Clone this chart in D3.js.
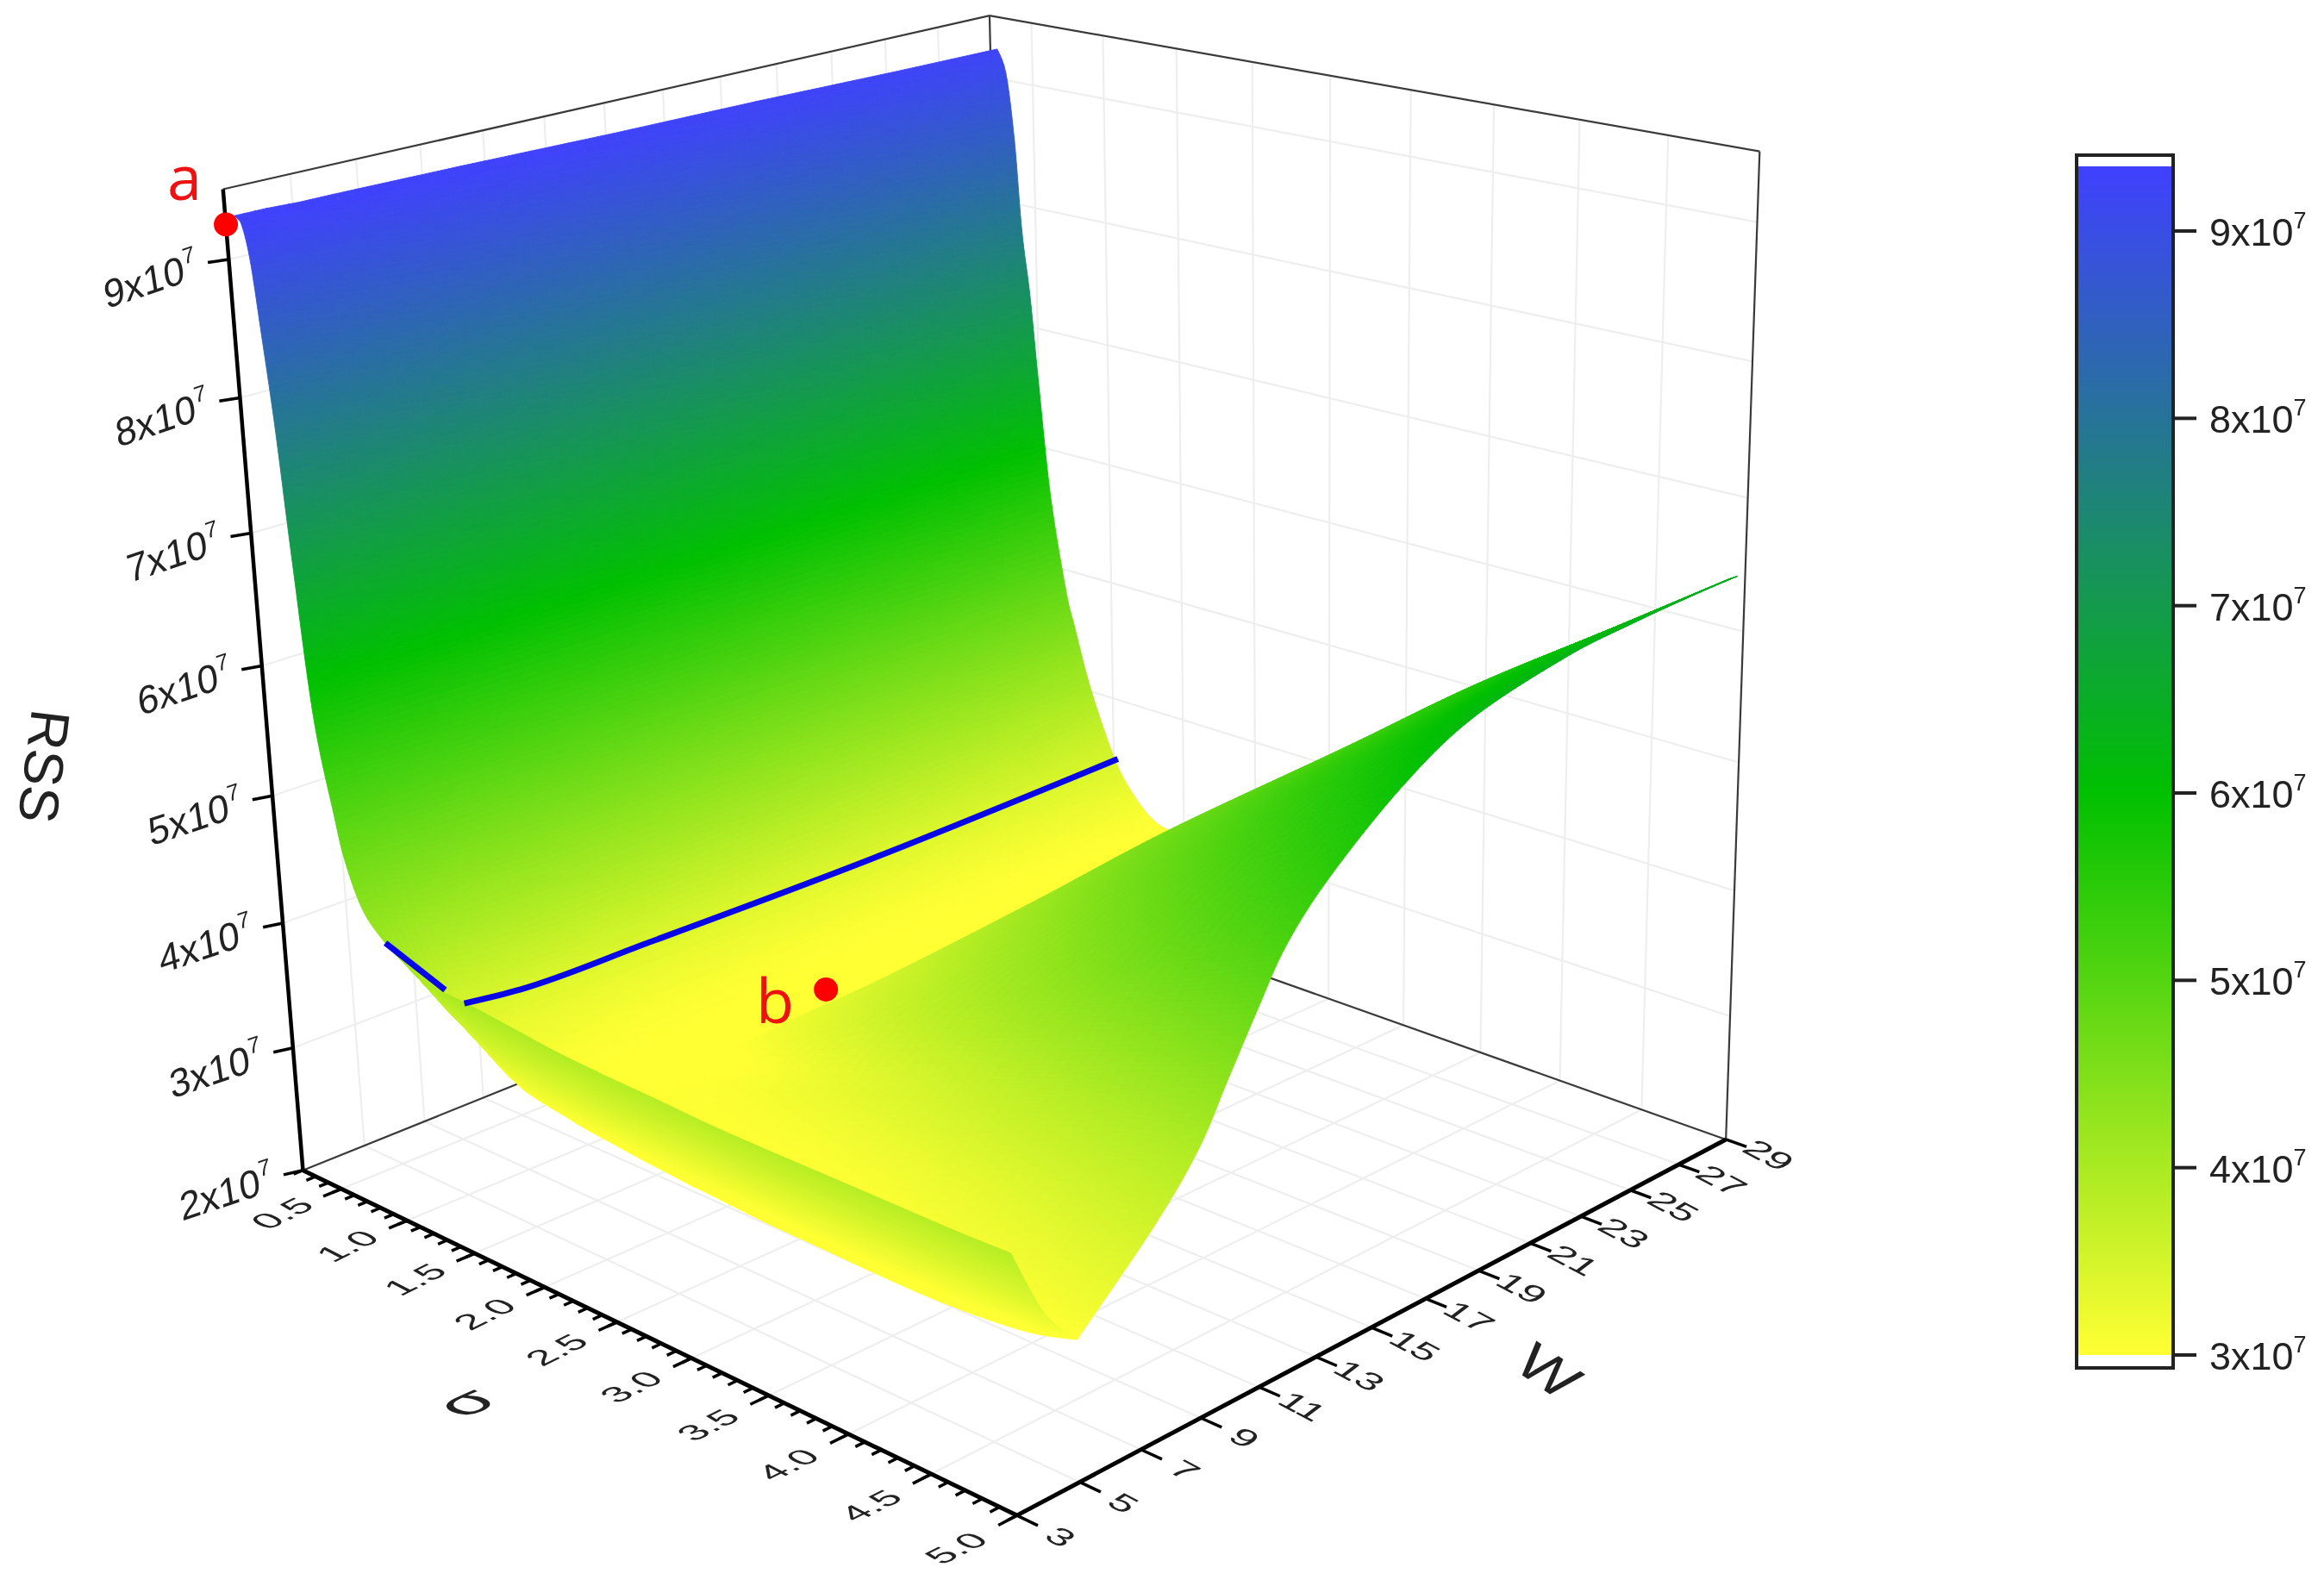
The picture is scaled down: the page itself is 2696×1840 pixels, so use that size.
<!DOCTYPE html><html><head><meta charset="utf-8"><style>html,body{margin:0;background:#fff}svg{display:block;filter:blur(.7px)}</style></head><body>
<script src="https://cdn.jsdelivr.net/npm/d3@7"></script>
<svg id="chart" width="2696" height="1840"></svg>
<script>
// ---------- axis data ----------
const sigmaDomain=[0.2,5], widthDomain=[3,29], rssDomain=[2,9.5]; // RSS in units of 1e7
const sigmaMajor=[0.5,1,1.5,2,2.5,3,3.5,4,4.5,5];
const sigmaLabels=["0.5","1.0","1.5","2.0","2.5","3.0","3.5","4.0","4.5","5.0"];
const sigmaMinor=d3.range(2,51).map(v=>v/10);
const widthTicks=[3,5,7,9,11,13,15,17,19,21,23,25,27,29];
const rssTicks=[2,3,4,5,6,7,8,9];
const barTicks=[3,4,5,6,7,8,9];
const barRange=[3,9.345];
// ---------- wall and valley of the surface ----------
const wallSigma=[.25,.31,.36,.40,.45,.50,.57,.67,.73,.84,1.0,1.12,1.27,1.42,1.59,1.91,2.23,2.65];
const wallW=[3,4,5,6,10,15,20,25,29];
const wallRss=[
[9.32,9.32,9.31,9.31,9.30,9.28,9.27,9.25,9.24],
[9.30,9.29,9.28,9.27,9.24,9.19,9.14,9.09,9.05],
[9.05,9.03,9.01,8.99,8.90,8.80,8.70,8.60,8.52],
[8.55,8.52,8.49,8.46,8.36,8.22,8.09,7.95,7.79],
[7.85,7.83,7.80,7.78,7.69,7.57,7.46,7.34,7.25],
[6.90,6.88,6.86,6.84,6.80,6.72,6.65,6.58,6.52],
[5.75,5.74,5.74,5.73,5.71,5.70,5.67,5.63,5.60],
[5.04,5.03,5.02,5.01,4.98,4.94,4.90,4.86,4.82],
[4.70,4.68,4.65,4.62,4.60,4.58,4.55,4.53,4.52],
[4.37,4.25,4.12,4.08,4.06,4.05,4.04,4.03,4.02],
[4.18,3.85,3.50,3.40,3.35,3.33,3.35,3.42,3.49],
[4.10,3.70,3.35,3.22,3.15,3.13,3.13,3.18,3.24],
[4.03,3.60,3.20,3.08,3.04,3.02,3.02,3.02,3.05],
[3.99,3.55,3.10,3.02,3.00,3.00,3.00,3.00,2.99],
[3.98,3.50,3.05,3.00,3.00,3.00,3.00,3.00,3.00],
[3.94,3.45,2.98,2.98,3.00,3.00,3.00,3.05,3.30],
[3.90,3.40,2.95,2.96,3.00,3.00,3.00,3.30,3.70],
[3.88,3.38,2.90,2.95,2.98,3.00,3.10,3.70,4.20]];
// ---------- front sheet: from its crest to the sigma=5 edge ----------
const sheetW=[28.7,27,24.5,22,18.5,16,13.5,12,11,10,9,7.5,5];
const sheetCrestSigma=[4.95,4.49,4.09,3.69,3.21,2.76,2.27,1.99,1.80,1.61,1.58,1.53,1.42];
const sheetCrestRss=[6.40,5.97,5.60,5.16,4.64,4.10,3.54,3.25,3.05,2.83,2.90,3.00,3.10];
const sheetMidRss=[6.42,6.20,6.00,5.75,5.40,5.00,4.50,4.20,3.95,3.60,3.40,3.10,2.87];
const sheetEdgeRss=[6.44,6.43,6.40,6.35,6.18,5.90,5.48,5.13,4.76,4.36,3.96,3.56,3.03];
// ---------- narrow band w=3..5 ----------
const bandSigma=[1.42,1.58,2.23,2.87,3.31,4.12,4.68,5.0];
const bandW=[5,4,3];
const bandRss=[
[3.10,3.04,2.94,2.89,2.87,2.86,2.92,3.03],
[3.52,3.48,3.40,3.36,3.34,3.33,3.33,3.33],
[3.99,3.98,3.90,3.87,3.85,3.85,3.85,3.86]];
// ---------- blue line and points ----------
const lineA={sigma:[.99,.95],w:[3,4.9],rss:[4.19,3.63]};
const lineB={sigma:[.95,.95,.95,.95,1.03],w:[5.47,7.3,11.56,19.36,29],rss:[3.47,3.41,3.39,3.37,3.48]};
const pointA={sigma:.2,w:3,rss:9.25}, pointB={sigma:1.93,w:13,rss:3.32};
// ---------- projection (fit from the drawn box corners) ----------
const sn=d3.scaleLinear().domain(sigmaDomain).range([0,1]);
const wn=d3.scaleLinear().domain(widthDomain).range([0,1]);
const zn=d3.scaleLinear().domain(rssDomain).range([0,1]);
const anchors=[[.2,3,2,351,1353],[5,3,2,1180,1760],[5,29,2,2004,1320],[.2,29,2,1169,1030],[.2,3,9.5,258,218],[.2,29,9.5,1151,17],[5,29,9.5,2039,176],[.2,3,9,265,302],[.2,3,8,278,463],[.2,3,3,341.5,1218]];
function solve(A,b){const n=b.length,M=A.map((r,i)=>[...r,b[i]]);for(let i=0;i<n;i++){let p=i;for(let j=i;j<n;j++)if(Math.abs(M[j][i])>Math.abs(M[p][i]))p=j;[M[i],M[p]]=[M[p],M[i]];for(let j=0;j<n;j++)if(j!=i){const f=M[j][i]/M[i][i];for(let k=i;k<=n;k++)M[j][k]-=f*M[i][k];}}return M.map((r,i)=>r[n]/r[i]);}
const R=[],Y=[];anchors.forEach(([s,w,z,x,y])=>{const a=sn(s),b=wn(w),c=zn(z);x/=1000;y/=1000;R.push([a,b,c,1,0,0,0,0,-x*a,-x*b,-x*c]);Y.push(x);R.push([0,0,0,0,a,b,c,1,-y*a,-y*b,-y*c]);Y.push(y);});
const h=solve(d3.range(11).map(i=>d3.range(11).map(j=>d3.sum(R,r=>r[i]*r[j]))),d3.range(11).map(i=>d3.sum(R,(r,k)=>r[i]*Y[k])));
function proj(s,w,z){const a=sn(s),b=wn(w),c=zn(z),d=h[8]*a+h[9]*b+h[10]*c+1;return [1000*(h[0]*a+h[1]*b+h[2]*c+h[3])/d,1000*(h[4]*a+h[5]*b+h[6]*c+h[7])/d];}
const color=d3.scaleLinear().domain([3,6,9.345]).range(["#ffff33","#00c000","#4040ff"]).clamp(true);
const svg=d3.select("#chart");
const line3=(pts)=>d3.line()(pts.map(p=>proj(...p)));
const FONT="'Liberation Sans',Arial,sans-serif";
// ---------- grid lines ----------
const grid=svg.append("g").attr("fill","none").attr("stroke","#eeeeee").attr("stroke-width",2.2);
const [s0,s1]=sigmaDomain,[w0,w1]=widthDomain,[z0,z1]=rssDomain;
const glines=[];
sigmaMajor.slice(0,-1).forEach(s=>{glines.push([[s,w0,z0],[s,w1,z0]]);glines.push([[s,w1,z0],[s,w1,z1]]);});
widthTicks.slice(1,-1).forEach(w=>{glines.push([[s0,w,z0],[s1,w,z0]]);glines.push([[s0,w,z0],[s0,w,z1]]);});
rssTicks.slice(1).forEach(z=>{glines.push([[s0,w0,z],[s0,w1,z]]);glines.push([[s0,w1,z],[s1,w1,z]]);});
grid.selectAll("path").data(glines).join("path").attr("d",line3);
// ---------- thin box ----------
const boxLines=[[[s0,w0,z0],[s0,w1,z0]],[[s0,w1,z0],[s1,w1,z0]],[[s0,w1,z0],[s0,w1,z1]],[[s0,w0,z1],[s0,w1,z1]],[[s0,w1,z1],[s1,w1,z1]],[[s1,w1,z0],[s1,w1,z1]]];
svg.append("g").attr("fill","none").attr("stroke","#3a3a3a").attr("stroke-width",2.2).selectAll("path").data(boxLines).join("path").attr("d",line3);
// ---------- surface ----------
const surf=svg.append("g");
const cr=(a,b,c,d,t)=>.5*(2*b+(c-a)*t+(2*a-5*b+4*c-d)*t*t+(3*b-a-3*c+d)*t*t*t);
function drawMesh(M,smoothI,smoothJ){
  const ni=M.length,nj=M[0].length,g=(i,j)=>M[Math.max(0,Math.min(ni-1,i))][Math.max(0,Math.min(nj-1,j))];
  const along=(i,j,v,k)=>smoothJ?cr(g(i,j-1)[k],g(i,j)[k],g(i,j+1)[k],g(i,j+2)[k],v):(1-v)*g(i,j)[k]+v*g(i,j+1)[k];
  const at=(i,j,u,v)=>[0,1,2].map(k=>smoothI?cr(along(i-1,j,v,k),along(i,j,v,k),along(i+1,j,v,k),along(i+2,j,v,k),u):(1-u)*along(i,j,v,k)+u*along(i+1,j,v,k));
  const quads=[];
  for(let i=0;i<ni-1;i++)for(let j=0;j<nj-1;j++){
    const pa=proj(...g(i,j)),pb=proj(...g(i,j+1)),pc=proj(...g(i+1,j+1)),pd=proj(...g(i+1,j));
    const du=Math.max(Math.hypot(pa[0]-pd[0],pa[1]-pd[1]),Math.hypot(pb[0]-pc[0],pb[1]-pc[1]));
    const dv=Math.max(Math.hypot(pa[0]-pb[0],pa[1]-pb[1]),Math.hypot(pd[0]-pc[0],pd[1]-pc[1]));
    const nu=Math.max(2,Math.ceil(du/7)),nv=Math.max(2,Math.ceil(dv/14));
    for(let q=0;q<nu;q++)for(let r=0;r<nv;r++){
      const u0=q/nu,u1=(q+1)/nu,v0=r/nv,v1=(r+1)/nv;
      quads.push({pts:[at(i,j,u0,v0),at(i,j,u0,v1),at(i,j,u1,v1),at(i,j,u1,v0)],z:at(i,j,(u0+u1)/2,(v0+v1)/2)[2]});
    }
  }
  surf.append("g").selectAll("path").data(quads).join("path")
    .attr("d",q=>line3(q.pts)+"Z").attr("fill",q=>color(q.z)).attr("stroke",q=>color(q.z)).attr("stroke-width",.9);
}
drawMesh(wallSigma.map((s,i)=>wallW.map((w,j)=>[s,w,wallRss[i][j]]).reverse()),true,false);
drawMesh(sheetW.map((w,i)=>[[sheetCrestSigma[i],w,sheetCrestRss[i]],[(sheetCrestSigma[i]+5)/2,w,sheetMidRss[i]],[5,w,sheetEdgeRss[i]]]),true,true);
drawMesh(bandW.map((w,i)=>bandSigma.map((s,j)=>[s,w,bandRss[i][j]])),true,true);
// ---------- blue line ----------
[lineA,lineB].forEach((l,k)=>svg.append("path").attr("fill","none").attr("stroke","#0808e6").attr("stroke-width",7).attr("stroke-linecap","butt")
  .attr("d",d3.line().curve(d3.curveMonotoneX)(l.w.map((w,i)=>proj(l.sigma[i],w,l.rss[i])))));
// ---------- thick axes ----------
const axes=svg.append("g").attr("fill","none").attr("stroke","#000");
axes.append("path").attr("stroke-width",4.5).attr("d",line3([[s0,w0,z0],[s0,w0,z1]]));
axes.append("path").attr("stroke-width",5).attr("d",line3([[s0,w0,z0],[s1,w0,z0]]));
axes.append("path").attr("stroke-width",5).attr("d",line3([[s1,w0,z0],[s1,w1,z0]]));
const tickPath=d=>line3(d);
axes.append("g").attr("stroke-width",3.5).selectAll("path").data(sigmaMinor).join("path").attr("d",s=>tickPath([[s,w0,z0],[s,w0-.3,z0]]));
axes.append("g").attr("stroke-width",3.5).selectAll("path").data(sigmaMajor).join("path").attr("d",s=>tickPath([[s,w0,z0],[s,w0-.58,z0]]));
axes.append("g").attr("stroke-width",3.5).selectAll("path").data(widthTicks).join("path").attr("d",w=>tickPath([[s1,w,z0],[s1+.12,w,z0]]));
axes.append("g").attr("stroke-width",3.5).selectAll("path").data(rssTicks).join("path").attr("d",z=>tickPath([[s0,w0,z],[s0-.03,w0-.5,z]]));
// ---------- tick labels ----------
const txt=svg.append("g").attr("font-family",FONT).attr("fill","#222");
txt.selectAll(".sl").data(sigmaMajor).join("text").attr("class","sl").attr("font-size",48).attr("text-anchor","middle").attr("dy",".36em")
  .attr("transform",s=>{const p=proj(s,w0-1.9,z0);return `matrix(.85,-.42,.7,.36,${p[0]},${p[1]})`;}).text((s,i)=>sigmaLabels[i]);
txt.selectAll(".wl").data(widthTicks).join("text").attr("class","wl").attr("font-size",50).attr("text-anchor","middle").attr("dy",".36em")
  .attr("transform",w=>{const p=proj(s1+.25,w,z0);return `matrix(.85,.45,-.55,.42,${p[0]},${p[1]})`;}).text(w=>w);
const zl=txt.selectAll(".zl").data(rssTicks).join("text").attr("class","zl").attr("font-size",45)
  .attr("transform",z=>{const p=proj(s0-.03,w0-.5,z);return `matrix(.95,-.32,.15,1,${p[0]-118},${p[1]+54})`;});
zl.append("tspan").text(z=>z+"x10");
zl.append("tspan").attr("font-size",26).attr("dy",-20).text("7");
// ---------- axis titles ----------
txt.append("text").attr("font-size",64).attr("text-anchor","middle").attr("transform","translate(52,889) rotate(97)").attr("dy",".36em").text("RSS");
txt.append("text").attr("font-size",88).attr("text-anchor","middle").attr("transform","matrix(.85,-.38,.7,.3,542,1628)").attr("dy",".3em").text("σ");
txt.append("text").attr("font-size",76).attr("text-anchor","middle").attr("transform","matrix(.8,.55,-.55,.6,1797,1590)").attr("dy",".36em").text("W");
// ---------- red points ----------
[pointA,pointB].forEach(p=>{const c=proj(p.sigma,p.w,p.rss);svg.append("circle").attr("cx",c[0]).attr("cy",c[1]).attr("r",14).attr("fill","#ff0000");});
const red=svg.append("g").attr("font-family","'Open Sans',sans-serif").attr("font-size",72).attr("fill","#ee1111").attr("text-anchor","middle");
red.append("text").attr("x",214).attr("y",232).text("a");
red.append("text").attr("x",899).attr("y",1187).text("b");
// ---------- colour bar ----------
const barY=d3.scaleLinear().domain([3,9]).range([1572,268]);
const defs=svg.append("defs"),gr=defs.append("linearGradient").attr("id","bar").attr("x1",0).attr("x2",0).attr("y1",1).attr("y2",0);
[3,6,9.345].forEach(v=>gr.append("stop").attr("offset",(v-barRange[0])/(barRange[1]-barRange[0])).attr("stop-color",color(v)));
const bar=svg.append("g");
bar.append("rect").attr("x",2409).attr("width",112).attr("y",180).attr("height",1407).attr("fill","#fff");
bar.append("rect").attr("x",2409).attr("width",112).attr("y",barY(barRange[1])).attr("height",barY(barRange[0])-barY(barRange[1])).attr("fill","url(#bar)");
bar.append("rect").attr("x",2409).attr("width",112).attr("y",180).attr("height",1407).attr("fill","none").attr("stroke","#222").attr("stroke-width",4);
bar.selectAll("line").data(barTicks).join("line").attr("x1",2521).attr("x2",2548).attr("y1",barY).attr("y2",barY).attr("stroke","#222").attr("stroke-width",4);
const bl=bar.selectAll("text").data(barTicks).join("text").attr("font-family",FONT).attr("font-size",45).attr("fill","#222").attr("x",2563).attr("y",v=>barY(v)+17);
bl.append("tspan").text(v=>v+"x10");
bl.append("tspan").attr("font-size",27).attr("dy",-20).text("7");
</script></body></html>
